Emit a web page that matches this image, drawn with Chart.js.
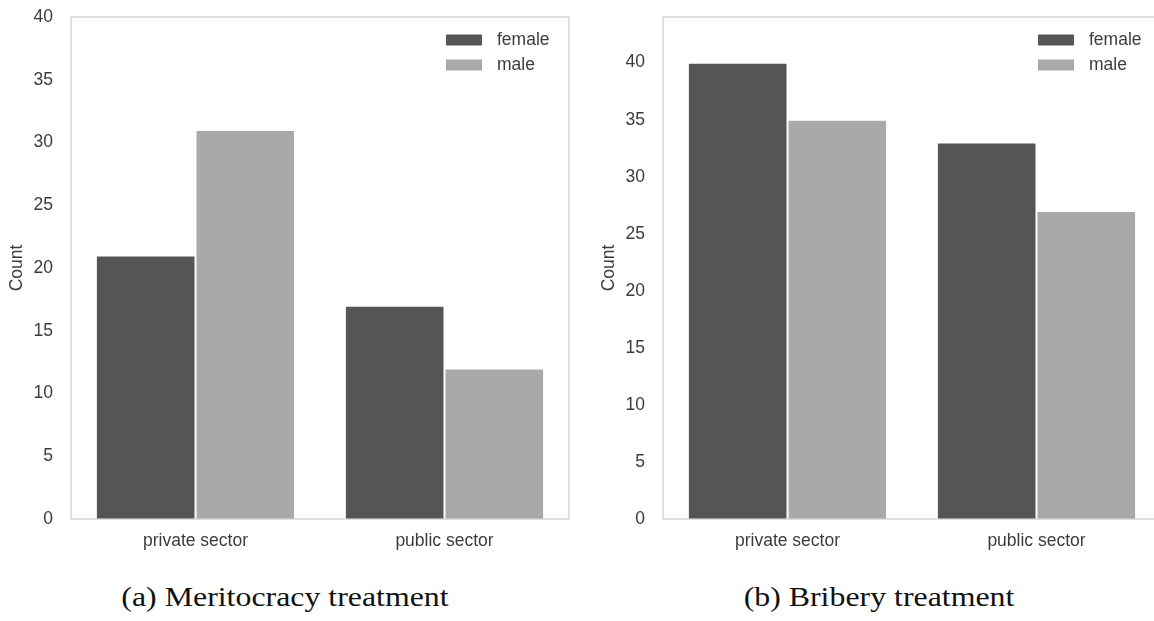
<!DOCTYPE html>
<html>
<head>
<meta charset="utf-8">
<script src="https://cdn.jsdelivr.net/npm/chart.js@4"></script>
<style>
  body { margin: 0; width: 1154px; height: 621px; overflow: hidden; background: #fff; position: relative; }
  .panel { position: absolute; top: 0; width: 580px; height: 560px; }
  .caption {
    position: absolute; top: 582px; width: 400px; text-align: center;
    font-family: "Liberation Serif", "DejaVu Serif", serif; font-size: 27px; color: #111;
    transform: scaleX(1.18); white-space: nowrap;
  }
</style>
</head>
<body>

<div class="panel" style="left:0;"><canvas id="chartMerit"></canvas></div>
<div class="panel" style="left:592px;"><canvas id="chartBribery"></canvas></div>

<!-- Subfigure captions -->
<div class="caption" style="left:85px;">(a) Meritocracy treatment</div>
<div class="caption" style="left:679px;">(b) Bribery treatment</div>

<script>
// Data
const categories = ['private sector', 'public sector'];
const seriesNames = ['female', 'male'];
const meritFemale = [21, 17];
const meritMale = [31, 12];
const briberyFemale = [40, 33];
const briberyMale = [35, 27];
const meritYMax = 40;
const briberyYMax = 44;
const yStep = 5;

const darkGrey = '#555555';
const lightGrey = '#a9a9a9';
const textColor = '#3c3c3c';
const tickFont = { family: '"Liberation Sans", Arial, sans-serif', size: 17.5 };

// Light grey box around the plot area
const framePlugin = {
  id: 'frame',
  afterDatasetsDraw(chart) {
    const a = chart.chartArea;
    const ctx = chart.ctx;
    ctx.save();
    ctx.strokeStyle = '#cccccc';
    ctx.lineWidth = 1.25;
    ctx.strokeRect(a.left, a.top, a.right - a.left, a.bottom - a.top);
    ctx.restore();
  }
};

// Legend drawn inside the top-right corner, seaborn style
const insideLegend = {
  id: 'insideLegend',
  afterDraw(chart) {
    const a = chart.chartArea;
    const ctx = chart.ctx;
    ctx.save();
    ctx.font = '17.5px "Liberation Sans", Arial, sans-serif';
    ctx.textBaseline = 'middle';
    chart.data.datasets.forEach(function (ds, i) {
      const top = a.top + 17.5 + i * 25;
      ctx.fillStyle = ds.backgroundColor;
      ctx.fillRect(a.right - 123, top, 36, 11);
      ctx.fillStyle = textColor;
      ctx.fillText(ds.label, a.right - 72, top + 6);
    });
    ctx.restore();
  }
};

function makeChart(id, femaleData, maleData, yMax) {
  const ctx = document.getElementById(id);
  return new Chart(ctx, {
    type: 'bar',
    data: {
      labels: categories,
      datasets: [
        {
          label: seriesNames[0],
          data: femaleData,
          backgroundColor: darkGrey,
          borderColor: '#ffffff',
          borderWidth: 1,
          categoryPercentage: 0.8,
          barPercentage: 1
        },
        {
          label: seriesNames[1],
          data: maleData,
          backgroundColor: lightGrey,
          borderColor: '#ffffff',
          borderWidth: 1,
          categoryPercentage: 0.8,
          barPercentage: 1
        }
      ]
    },
    options: {
      responsive: true,
      maintainAspectRatio: false,
      animation: false,
      layout: { padding: { top: 17, right: 11, left: 0, bottom: 0 } },
      plugins: { legend: { display: false }, tooltip: { enabled: false } },
      scales: {
        x: {
          grid: { display: false, drawTicks: false },
          border: { display: false },
          ticks: { color: textColor, font: tickFont, padding: 12 },
          afterFit: function (s) { s.height = 41; s.paddingLeft = 0; s.paddingRight = 0; }
        },
        y: {
          min: 0,
          max: yMax,
          grid: { display: false, drawTicks: false },
          border: { display: false },
          ticks: { stepSize: yStep, includeBounds: false, color: textColor, font: tickFont, padding: 18 },
          title: { display: true, text: 'Count', color: textColor, font: tickFont, padding: { top: 7, bottom: 0 } },
          afterFit: function (s) { s.width = 71; s.paddingTop = 0; s.paddingBottom = 0; }
        }
      }
    },
    plugins: [framePlugin, insideLegend]
  });
}

makeChart('chartMerit', meritFemale, meritMale, meritYMax);
makeChart('chartBribery', briberyFemale, briberyMale, briberyYMax);
</script>
</body>
</html>
